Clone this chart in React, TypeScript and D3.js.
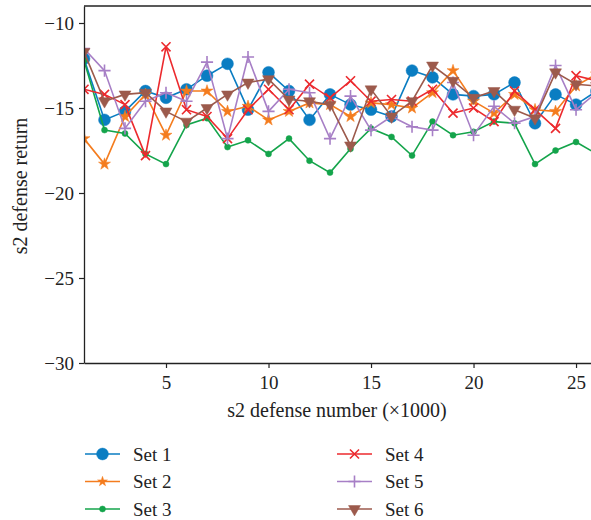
import React, { useEffect, useRef } from 'react';
import * as d3 from 'd3';

// defense number in thousands
const steps = d3.range(1, 27);

const set1 = [-12.1, -15.7, -15.2, -14.0, -14.4, -13.9, -13.1, -12.4, -15.1, -12.9, -14.0, -15.7, -14.2, -14.8, -15.1, -15.5, -12.8, -13.2, -14.2, -14.3, -14.2, -13.5, -15.9, -14.2, -14.8, -14.0];
const set2 = [-16.8, -18.3, -15.5, -14.2, -16.6, -14.0, -14.0, -15.2, -14.9, -15.7, -15.2, -14.7, -14.8, -15.5, -14.7, -14.8, -15.0, -14.1, -12.8, -14.6, -15.3, -14.2, -15.1, -15.2, -13.7, -13.0];
const set3 = [-12.2, -16.3, -16.5, -17.7, -18.3, -16.0, -15.6, -17.3, -16.9, -17.7, -16.8, -18.1, -18.8, -17.4, -16.2, -16.7, -17.8, -15.8, -16.6, -16.4, -15.8, -15.9, -18.3, -17.5, -17.0, -17.7];
const set4 = [-13.9, -14.2, -14.8, -17.8, -11.4, -15.1, -15.5, -16.8, -15.1, -13.9, -15.1, -13.6, -14.4, -13.4, -14.6, -14.5, -14.6, -13.9, -15.3, -15.0, -15.8, -14.0, -15.1, -16.2, -13.1, -13.4];
const set5 = [-11.5, -12.8, -16.2, -14.6, -14.1, -14.6, -12.3, -16.8, -12.0, -15.2, -13.9, -14.1, -16.8, -14.3, -16.3, -15.5, -16.1, -16.3, -13.5, -16.6, -14.9, -15.9, -15.5, -12.5, -15.1, -14.1];
const set6 = [-11.7, -14.6, -14.2, -14.1, -15.2, -15.8, -15.0, -14.2, -13.5, -13.3, -14.5, -14.6, -14.8, -17.2, -13.9, -15.5, -14.6, -12.5, -13.4, -14.4, -14.0, -15.1, -15.6, -12.9, -13.6, -13.7];

const seriesNames = ['Set 1', 'Set 2', 'Set 3', 'Set 4', 'Set 5', 'Set 6'];
const xTicks = [5, 10, 15, 20, 25];
const yTicks = [-10, -15, -20, -25, -30];

const FONT = "'Liberation Serif', 'DejaVu Serif', serif";

const styles = [
  { color: '#0a7dc2', symbol: d3.symbolCircle, size: 110, fill: true, rotate: 0, lsize: 110 },
  { color: '#f47c1e', symbol: d3.symbolStar, size: 45, fill: true, rotate: 0, lsize: 30 },
  { color: '#14a44b', symbol: d3.symbolCircle, size: 28, fill: true, rotate: 0, lsize: 28 },
  { color: '#ec2a2e', symbol: d3.symbolX, size: 55, fill: false, rotate: 0, lsize: 55 },
  { color: '#a77fc6', symbol: d3.symbolPlus, size: 50, fill: false, rotate: 0, lsize: 50 },
  { color: '#9c5a4c', symbol: d3.symbolTriangle, size: 62, fill: true, rotate: 180, lsize: 62 },
];

const App = () => {
  const svgRef = useRef(null);
  const width = 591;
  const height = 520;

  useEffect(() => {
    const svg = d3.select(svgRef.current);
    svg.selectAll('*').remove();

    const x = d3.scaleLinear().domain([1, 25.73]).range([84, 591]);
    const y = d3.scaleLinear().domain([-30, -9]).range([363, 6]);

    svg.append('defs').append('clipPath').attr('id', 'plotClip')
      .append('rect').attr('x', 84).attr('y', 6).attr('width', 507).attr('height', 357);

    const data = [set1, set2, set3, set4, set5, set6];

    // Draw series
    const plot = svg.append('g').attr('clip-path', 'url(#plotClip)');
    const line = d3.line<number>().x((d, i) => x(steps[i])).y(d => y(d));

    data.forEach((vals, k) => {
      const st = styles[k];
      plot.append('path')
        .datum(vals)
        .attr('fill', 'none')
        .attr('stroke', st.color)
        .attr('stroke-width', 1.6)
        .attr('d', line);

      const sym = d3.symbol().type(st.symbol).size(st.size);
      plot.selectAll(null)
        .data(vals)
        .enter()
        .append('path')
        .attr('transform', (d, i) => `translate(${x(steps[i])},${y(d)}) rotate(${st.rotate})`)
        .attr('d', sym())
        .attr('fill', st.fill ? st.color : 'none')
        .attr('stroke', st.color)
        .attr('stroke-width', st.fill ? 0.5 : 1.6);
    });

    // Frame (right side cut off)
    const axisColor = '#222';
    svg.append('line').attr('x1', 84).attr('x2', 591).attr('y1', 6).attr('y2', 6)
      .attr('stroke', axisColor).attr('stroke-width', 1.3);

    const xAxis = svg.append('g').attr('transform', 'translate(0,363)')
      .call(d3.axisBottom(x).tickValues(xTicks).tickSize(5).tickSizeOuter(0).tickPadding(8));
    const yAxis = svg.append('g').attr('transform', 'translate(84,0)')
      .call(d3.axisLeft(y).tickValues(yTicks).tickSize(5).tickSizeOuter(0).tickPadding(5));

    [xAxis, yAxis].forEach(ax => {
      ax.attr('font-family', FONT).attr('font-size', 19);
      ax.select('.domain').attr('stroke', axisColor).attr('stroke-width', 1.3);
      ax.selectAll('.tick line').attr('stroke', axisColor).attr('stroke-width', 1.2);
      ax.selectAll('.tick text').attr('fill', '#222');
    });

    svg.append('text')
      .attr('x', 337).attr('y', 417)
      .attr('text-anchor', 'middle')
      .attr('fill', '#222')
      .attr('font-family', FONT).attr('font-size', 20)
      .text('s2 defense number (×1000)');

    svg.append('text')
      .attr('transform', 'translate(27,186) rotate(-90)')
      .attr('text-anchor', 'middle')
      .attr('fill', '#222')
      .attr('font-family', FONT).attr('font-size', 20)
      .text('s2 defense return');

    // Legend
    const legend = svg.append('g');
    seriesNames.forEach((name, k) => {
      const st = styles[k];
      const col = Math.floor(k / 3);
      const row = k % 3;
      const lx = col === 0 ? 85 : 337;
      const ly = 454 + row * 27.5;
      const g = legend.append('g').attr('transform', `translate(${lx},${ly})`);
      g.append('line').attr('x1', 0).attr('x2', 35).attr('y1', 0).attr('y2', 0)
        .attr('stroke', st.color).attr('stroke-width', 1.6);
      g.append('path')
        .attr('transform', `translate(17.5,0) rotate(${st.rotate})`)
        .attr('d', d3.symbol().type(st.symbol).size(st.lsize)())
        .attr('fill', st.fill ? st.color : 'none')
        .attr('stroke', st.color)
        .attr('stroke-width', st.fill ? 0.5 : 1.6);
      g.append('text')
        .attr('x', 48).attr('y', 0).attr('dy', '0.35em')
        .attr('fill', '#222')
        .attr('font-family', FONT).attr('font-size', 19)
        .text(name);
    });
  }, []);

  return (
    <svg ref={svgRef} width={width} height={height}
      style={{ position: 'absolute', left: 0, top: 0, background: '#fff' }}></svg>
  );
};

export default App;
